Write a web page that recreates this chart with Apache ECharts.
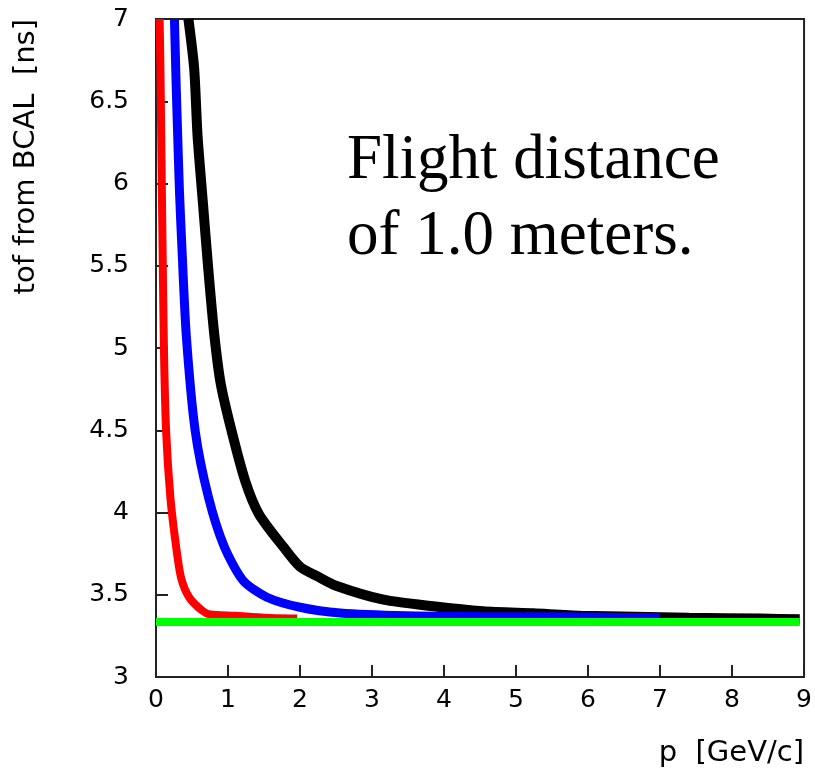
<!DOCTYPE html>
<html>
<head>
<meta charset="utf-8">
<script src="https://cdn.jsdelivr.net/npm/echarts@6/dist/echarts.min.js"></script>
<style>
html,body{margin:0;padding:0;background:#fff;}
#chart{width:815px;height:771px;}
</style>
</head>
<body>
<div id="chart"></div>
<script>
// ---- data ----
const xTicks = [0,1,2,3,4,5,6,7,8,9];
const yTicks = [3,3.5,4,4.5,5,5.5,6,6.5,7];

// red curve
const redP = [0.05, 0.06, 0.075, 0.09, 0.11, 0.14, 0.20, 0.28, 0.35, 0.46, 0.64, 0.75, 1.1, 1.5, 1.96];
const redT = [7.0, 6.75, 6.2, 5.65, 5.0, 4.5, 4.09, 3.79, 3.60, 3.485, 3.404, 3.38, 3.372, 3.36, 3.355];

// blue curve
const blueP = [0.256, 0.28, 0.30, 0.326, 0.36, 0.42, 0.545, 0.73, 0.95, 1.21, 1.54, 2.0, 2.56, 3.48, 4.5, 5.5, 6.5, 7.0];
const blueT = [7.0, 6.6, 6.31, 5.95, 5.61, 5.08, 4.495, 4.09, 3.79, 3.586, 3.485, 3.424, 3.389, 3.372, 3.368, 3.366, 3.362, 3.36];

// black curve
const blackP = [0.45, 0.53, 0.577, 0.65, 0.725, 0.81, 0.90, 1.05, 1.24, 1.43, 1.77, 2.0, 2.25, 2.5, 3.16, 3.85, 4.54, 5.24, 5.9, 7.4, 8.4, 8.94];
const blackT = [7.0, 6.70, 6.29, 5.89, 5.485, 5.08, 4.78, 4.495, 4.19, 3.99, 3.79, 3.67, 3.61, 3.555, 3.47, 3.43, 3.40, 3.387, 3.373, 3.36, 3.355, 3.351];

// green line
const greenP = [0, 8.94];
const greenT = [3.334, 3.334];

const pairs = (xs, ys) => xs.map((x, i) => [x, ys[i]]);

const chart = echarts.init(document.getElementById('chart'), null, {renderer: 'canvas'});
const tickFont = 'DejaVu Sans';
const curve = (xs, ys, color, width, z) => ({
  type: 'line', data: pairs(xs, ys), showSymbol: false, symbol: 'none',
  smooth: 0.25,
  lineStyle: {color: color, width: width}, z: z
});
chart.setOption({
  animation: false,
  backgroundColor: '#ffffff',
  grid: {left: 156, right: 10, top: 19, bottom: 94, show: true, borderColor: '#222', borderWidth: 2, backgroundColor: 'transparent'},
  xAxis: {
    type: 'value', min: 0, max: 9, interval: 1,
    name: 'p  [GeV/c]', nameLocation: 'end', nameGap: 0,
    nameTextStyle: {fontFamily: tickFont, fontSize: 29, color: '#000', align: 'right', verticalAlign: 'top', padding: [62, 0, 0, 0]},
    axisLine: {show: true, onZero: false, lineStyle: {color: '#222', width: 2}},
    axisTick: {show: true, inside: true, length: 12, lineStyle: {color: '#222', width: 2}},
    axisLabel: {fontFamily: tickFont, fontSize: 25, color: '#000', margin: 11, showMinLabel: true, showMaxLabel: true},
    splitLine: {show: false}
  },
  yAxis: {
    type: 'value', min: 3, max: 7, interval: 0.5,
    name: 'tof from BCAL  [ns]', nameLocation: 'end', nameGap: 0, nameRotate: 90,
    nameTextStyle: {fontFamily: tickFont, fontSize: 29, color: '#000', align: 'right', verticalAlign: 'bottom', padding: [0, 0, 115, 0]},
    axisLine: {show: true, onZero: false, lineStyle: {color: '#222', width: 2}},
    axisTick: {show: true, inside: true, length: 12, lineStyle: {color: '#222', width: 2}},
    axisLabel: {fontFamily: tickFont, fontSize: 25, color: '#000', margin: 27, showMinLabel: true, showMaxLabel: true},
    splitLine: {show: false}
  },
  series: [
    curve(redP, redT, '#ff0000', 8, 2),
    curve(blackP, blackT, '#000000', 10, 3),
    curve(blueP, blueT, '#0000ff', 9, 4),
    {type: 'line', data: pairs(greenP, greenT), showSymbol: false, symbol: 'none', lineStyle: {color: '#00ff00', width: 8}, z: 5}
  ],
  graphic: [
    {type: 'text', left: 347, top: 130, style: {text: 'Flight distance', font: '63px "Liberation Serif", "Times New Roman", serif', fill: '#000'}},
    {type: 'text', left: 347, top: 206, style: {text: 'of 1.0 meters.', font: '63px "Liberation Serif", "Times New Roman", serif', fill: '#000'}}
  ]
});
</script>
</body>
</html>
